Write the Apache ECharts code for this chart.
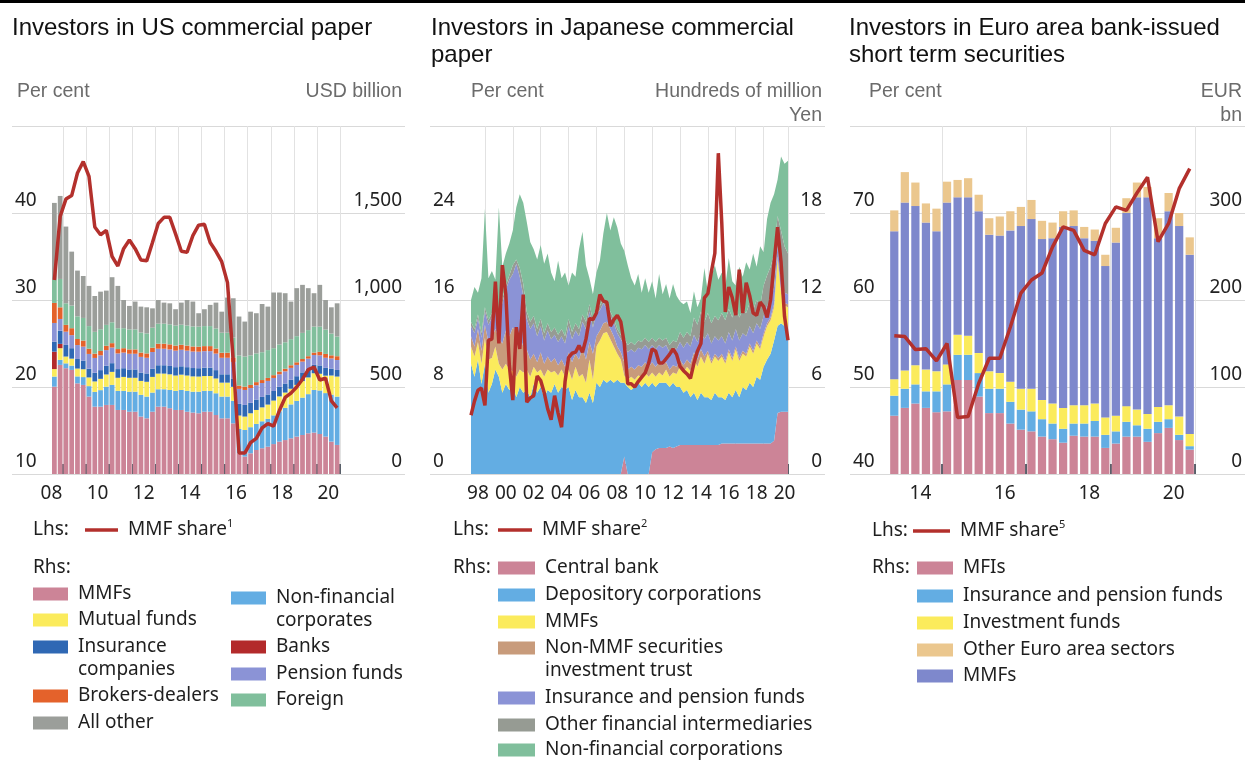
<!DOCTYPE html>
<html>
<head>
<meta charset="utf-8">
<script src="https://cdn.jsdelivr.net/npm/echarts@6/dist/echarts.min.js"></script>
<style>
  html, body { margin: 0; background: #fff; }
  #chart { width: 1245px; height: 761px; }
</style>
</head>
<body>
<div id="chart"></div>
<script>
// ---------- US commercial paper: quarterly, 2008 Q3 – 2020 Q4 (USD bn, MMF share in %) ----------
const usQuarters = [];
for (let y = 2008; y <= 2020; y++) for (let q = 1; q <= 4; q++) if (y > 2008 || q >= 3) usQuarters.push(y + ' Q' + q);

const usMMFs      = [502,627,608,598,521,512,445,387,387,397,397,368,368,358,358,330,320,358,387,387,378,368,368,358,353,349,358,358,339,320,320,291,119,100,119,138,148,157,172,186,195,205,215,224,234,238,230,215,186,167];
const usNonFin    = [58,29,28,25,40,45,60,85,95,105,115,110,110,115,115,125,125,110,100,100,105,110,115,120,120,124,120,120,125,125,125,130,140,153,150,150,155,160,165,175,185,195,205,215,225,245,250,250,270,278];
const usMutual    = [43,67,39,40,45,45,50,60,65,70,75,75,80,80,80,80,85,90,90,90,90,88,88,88,88,87,85,85,85,80,80,80,77,77,80,80,80,82,85,85,88,90,92,95,96,96,96,100,110,115];
const usBanks     = [100,25,0,0,0,0,0,0,0,0,0,0,0,0,0,0,0,0,0,0,0,0,0,0,0,0,0,0,0,0,0,0,0,0,0,0,0,0,0,0,0,0,0,0,0,0,0,0,0,0];
const usInsurance = [58,76,67,60,55,50,50,50,50,50,50,50,50,48,48,48,48,48,48,48,48,48,48,48,48,48,48,48,48,48,48,48,67,67,60,60,60,58,55,55,52,52,50,50,48,48,48,45,40,38];
const usPension   = [107,67,76,75,80,80,85,85,85,90,90,90,90,90,90,90,90,95,95,95,95,95,95,95,95,95,95,95,95,95,95,95,86,86,85,82,80,78,75,72,70,68,65,62,60,57,58,58,58,57];
const usBrokers   = [115,67,39,40,35,35,30,25,25,25,25,25,25,25,25,25,25,25,29,29,29,29,29,29,29,29,29,29,29,29,29,25,19,19,18,18,17,17,16,16,15,15,15,15,14,14,20,22,18,22];
const usForeign   = [132,163,124,130,130,130,130,125,125,120,120,120,115,115,115,115,115,115,115,115,115,115,115,115,115,115,115,115,115,115,115,115,173,173,170,165,160,160,155,155,152,150,150,150,150,149,145,140,125,113];
const usAllOther  = [443,477,441,310,263,241,231,206,216,197,259,243,162,135,160,149,150,111,136,121,121,94,127,147,143,77,97,122,149,121,202,226,224,201,251,231,277,250,320,299,282,216,276,276,241,192,240,170,151,191];
const usShare     = [32.3,39.6,41.6,42.0,44.6,45.9,44.2,38.4,37.5,38.0,35.0,33.9,35.9,36.9,35.9,34.6,34.5,36.6,38.8,39.5,39.5,37.6,35.6,35.5,37.4,38.6,38.7,36.6,35.6,34.4,32.0,23.0,12.4,12.4,13.6,14.1,15.3,15.8,15.5,17.3,18.8,19.3,20.0,20.9,22.0,22.3,20.8,21.0,18.4,17.6];

// ---------- Japanese commercial paper: quarterly, 1998 Q1 – 2020 Q4 (hundreds of million yen, MMF share in %) ----------
const jpQuarters = [];
for (let y = 1998; y <= 2020; y++) for (let q = 1; q <= 4; q++) jpQuarters.push(y + ' Q' + q);

const jpCentral = [
  0,0,0,0, 0,0,0,0, 0,0,0,0, 0,0,0,0, 0,0,0,0, 0,0,0,0, 0,0,0,0, 0,0,0,0, 0,0,0,0, 0,0,0,0, 0,0,0,0,
  1.2,0,0,0, 0,0,0,0, 1.5,1.7,1.8,1.8, 1.8,1.9,1.8,1.9,
  2.0,2.0,2.0,2.0, 2.0,2.0,2.0,2.0, 2.0,2.0,2.0,2.0,
  2.1,2.1,2.1,2.1, 2.1,2.1,2.1,2.1, 2.1,2.1,2.1,2.1,
  2.1,2.1,2.1,2.3, 4.2,4.3,4.3,4.3];
const jpDepository = [
  7.6,6.7,7.9,6.2, 7.6,5.6,6.2,7.2, 6.7,5.6,6.2,5.8, 6.2,5.3,6.0,5.6, 5.8,5.3,6.2,5.6, 6.0,5.3,5.8,5.6,
  6.2,5.6,6.0,5.8, 6.0,5.1,5.8,5.3, 5.3,4.9,5.6,4.9, 6.3,6.0,6.5,6.3, 6.5,6.3,6.5,6.3, 5.1,6.0,5.8,6.0,
  6.3,6.0,6.3,6.0, 4.8,4.3,4.5,4.5, 4.5,4.1,4.5,4.1, 4.0,3.6,3.8,3.3, 3.6,3.1,3.6,3.3, 3.3,3.1,3.6,3.3,
  3.2,3.0,3.5,3.2, 3.7,3.2,3.9,3.7, 4.2,3.9,4.6,4.4, 5.3,5.8,6.2,6.9, 6.0,6.1,5.9,5.6];
const jpMMFs = [
  1.2,1.4,1.2,1.4, 1.8,2.3,1.8,1.6, 0.9,1.6,1.4,1.4, 0.9,1.4,1.2,1.4, 1.4,1.4,1.2,1.4, 1.2,1.4,1.4,1.4,
  0.9,1.2,1.2,0.9, 1.2,1.4,1.6,1.4, 1.6,1.4,2.3,1.6, 2.5,3.2,3.2,3.5, 2.8,2.5,1.8,1.6, 0.5,0.5,0.9,0.5,
  0.5,0.7,0.7,0.7, 0.7,0.7,0.7,0.5, 0.9,0.7,0.7,0.9, 1.4,1.4,1.6,1.8, 2.3,2.3,2.5,2.3, 3.0,2.5,2.5,2.5,
  2.8,2.5,2.8,2.5, 2.8,2.5,2.3,2.3, 2.5,2.3,2.3,2.1, 2.1,2.3,2.3,2.3, 4.6,2.1,1.4,1.6];
const jpNonMMF = [
  0.7,0.7,0.9,0.9, 0.9,1.2,1.4,1.2, 1.8,1.8,2.3,2.3, 3.0,3.2,2.3,1.8, 1.4,1.2,0.9,0.7, 1.2,0.9,0.9,0.7,
  0.9,0.7,0.7,0.7, 1.2,1.2,0.9,1.2, 1.8,1.6,1.2,1.8, 0.7,0.7,0.7,0.7, 0.7,0.7,0.5,0.5, 0.9,0.7,0.7,0.7,
  0.7,0.7,0.7,0.7, 0.7,0.7,0.7,0.7, 0.5,0.5,0.5,0.5, 0.5,0.5,0.5,0.5, 0.5,0.5,0.5,0.5, 0.2,0.2,0.2,0.2,
  0.2,0.2,0.2,0.2, 0.2,0.2,0.2,0.2, 0.2,0.2,0.2,0.2, 0.2,0.2,0.2,0.2, 0.2,0.2,0.2,0.2];
const jpInsPension = [
  0.7,0.9,0.7,0.9, 0.9,1.2,1.4,1.8, 1.4,2.8,2.8,3.9, 3.7,4.6,4.1,3.5, 2.1,2.1,2.1,1.8, 1.8,1.6,1.8,1.6,
  1.6,1.6,1.6,1.6, 1.8,1.6,1.6,1.6, 1.8,2.1,2.1,1.8, 1.6,1.4,1.4,0.9, 0.9,0.9,0.9,0.9, 1.2,1.2,1.2,1.2,
  1.2,1.2,1.2,1.2, 1.2,1.2,1.2,1.2, 1.2,1.2,1.2,1.2, 1.2,1.2,1.2,1.2, 1.2,1.2,1.2,1.2, 1.2,1.2,1.2,1.2,
  1.2,1.2,1.2,1.2, 1.2,1.2,1.2,1.2, 1.2,1.2,1.2,1.2, 1.2,1.2,1.2,1.2, 0.7,0.9,0.7,0.7];
const jpOtherFin = [
  0.3,0.3,0.3,0.3, 0.3,0.3,0.3,0.3, 0.3,0.3,0.3,0.3, 0.6,0.3,0.6,0.8, 0.5,0.5,0.5,0.5, 0.5,0.5,0.5,0.5,
  0.5,0.5,0.5,0.5, 0.5,0.5,0.5,0.5, 0.5,0.5,0.5,0.5, 0.5,0.3,0.3,0.3, 0.3,0.3,0.3,0.3, 0.5,0.5,0.5,0.5,
  0.5,0.5,0.5,0.5, 0.5,0.5,0.5,0.5, 0.5,0.5,0.5,0.5, 0.7,0.7,0.7,0.7, 1.2,1.2,1.4,1.2, 1.4,1.4,1.4,1.4,
  1.6,1.6,1.6,1.6, 1.6,1.6,1.6,1.6, 1.6,1.6,1.6,1.6, 2.1,2.1,2.3,2.3, 2.1,3.2,3.2,2.8];
const jpNonFinCorp = [
  1.5,2.9,1.5,3.8, 6.8,2.9,2.9,1.3, 7.3,2.2,2.2,2.2, 2.4,3.6,5.1,5.6, 6.2,5.5,4.6,4.8, 5.1,4.8,4.8,4.1,
  3.2,5.1,3.5,4.4, 2.3,4.1,3.2,5.5, 5.7,3.9,1.8,1.8, 2.3,3.1,4.5,6.3, 5.6,7.0,7.0,6.3, 6.0,5.5,4.4,4.1,
  4.6,3.4,4.1,3.4, 3.9,3.0,4.4,3.2, 3.7,3.2,3.9,3.2, 2.1,2.3,2.1,1.6, 1.8,1.2,0.9,3.7, 1.4,3.2,3.5,2.8,
  2.8,2.3,3.5,2.5, 1.4,3.5,2.3,3.5, 2.3,3.9,2.3,4.1, 2.3,3.9,4.4,4.1, 2.5,5.1,5.7,6.4];
const jpShare = [
  5.4,6.7,7.7,7.9, 6.3,12.3,12.4,17.7, 12.0,19.2,16.5,10.0, 6.8,13.5,11.5,16.5, 6.6,7.0,7.2,9.0, 8.6,7.5,6.0,5.0,
  7.2,5.6,4.3,8.5, 10.7,11.1,11.2,11.8, 11.2,12.4,14.3,14.2, 14.8,16.5,15.9,15.8, 13.6,14.2,14.6,14.0, 12.0,8.3,8.3,8.0,
  8.5,8.9,9.3,10.2, 11.5,11.3,10.2,10.2, 10.6,11.0,11.5,11.0, 9.9,9.5,9.2,8.8, 10.2,11.3,12.0,16.2, 16.6,18.6,20.3,29.5,
  23.0,14.9,17.2,16.2, 14.6,18.8,14.8,17.6, 16.4,14.8,14.6,15.8, 15.4,14.4,16.0,19.4, 22.7,19.5,14.5,12.3];

// ---------- Euro area bank-issued short term securities: quarterly, 2013 Q4 – 2020 Q4 (EUR bn, MMF share in %) ----------
const euQuarters = [];
for (let y = 2013; y <= 2020; y++) for (let q = 1; q <= 4; q++) if (y > 2013 || q === 4) euQuarters.push(y + ' Q' + q);

const euMFIs      = [67,76,81,76,71,72,108,108,89,70,70,58,51,49,43,40,36,44,43,43,30,35,43,43,37,47,53,39,28];
const euInsPension = [23,22,22,19,24,31,29,29,27,28,28,25,23,23,20,18,16,14,15,18,15,14,17,13,15,13,10,6,4];
const euInvFunds  = [19,21,22,25,23,23,23,22,23,20,18,23,24,26,22,23,24,21,21,20,20,18,18,18,17,17,16,21,14];
const euMMFs      = [170,193,183,169,161,186,158,159,163,157,158,174,187,195,185,190,208,206,192,187,174,199,222,244,249,194,223,219,206];
const euOther     = [24,35,27,22,26,24,20,22,19,19,22,22,22,22,21,18,18,18,13,13,13,17,17,17,12,23,21,15,20];
const euShare     = [55.9,55.8,54.3,54.4,53.0,55.0,46.5,46.6,50.4,53.3,53.3,56.9,60.8,62.3,63.1,66.1,68.4,68.0,65.7,65.2,68.8,70.7,70.3,72.3,74.1,66.7,68.8,72.8,75.1];

// ---------- styling ----------
const FONT = "'Noto Sans', 'Open Sans', sans-serif";
const ARIAL = "'Liberation Sans', Arial, sans-serif";
const RED = '#b3302c';
const C = {
  pink: '#cc8497', blue: '#63ade3', yellow: '#fbeb5c', navy: '#2f68b4', orange: '#e4622b',
  gray: '#9b9e9a', darkred: '#b32a2b', lavender: '#8b93d6', green: '#80bf9c',
  brown: '#c89b7b', ofi: '#969b93', tan: '#ebc78e', mmfBlue: '#7e88cc'
};
const TOP = 126, H = 348;

const grid = (left, right) => ({left: left, right: right, top: TOP, height: H, outerBoundsMode: 'none'});
const frameX = g => ({type: 'value', gridIndex: g, show: false, min: 0, max: 1});
const thousands = v => String(v).replace(/\B(?=(\d{3})+(?!\d))/g, ',');

function frameY(g, pos, min, max, step, fmt) {
  return {
    type: 'value', gridIndex: g, position: pos, min: min, max: max, interval: step,
    axisLine: {show: false}, axisTick: {show: false},
    splitLine: {show: pos === 'left', lineStyle: {color: '#d9d9d9', width: 1}},
    axisLabel: {
      inside: true, margin: 3, verticalAlign: 'bottom', padding: [0, 0, 3, 0],
      fontFamily: FONT, fontSize: 19, color: '#222',
      formatter: v => v === max ? '' : (fmt ? fmt(v) : String(v))
    }
  };
}
const dataY = (g, pos, min, max) => ({type: 'value', gridIndex: g, position: pos, min: min, max: max, show: false});

function timeAxis(g, cats, onBand, tickAt, labelAt, shift) {
  return {
    type: 'category', gridIndex: g, data: cats, boundaryGap: onBand,
    axisLine: {show: false},
    axisTick: {show: true, inside: true, length: 10, interval: tickAt, lineStyle: {color: '#2d3442', width: 1.5}},
    splitLine: {show: true, interval: tickAt, lineStyle: {color: '#e2e2e2', width: 1}},
    axisLabel: {
      interval: labelAt, margin: 10, fontFamily: FONT, fontSize: 19, color: '#222',
      padding: [0, shift, 0, 0], formatter: v => v.slice(2, 4)
    }
  };
}

const bar = (name, data, color, x, y, gap) => ({
  name: name, type: 'bar', stack: 'x' + x, data: data, xAxisIndex: x, yAxisIndex: y,
  barCategoryGap: gap, itemStyle: {color: color}
});
const area = (name, data, color) => ({
  name: name, type: 'line', stack: 'jp', data: data, xAxisIndex: 3, yAxisIndex: 7,
  color: color, symbol: 'none', lineStyle: {width: 0}, areaStyle: {color: color, opacity: 1}
});
const share = (name, data, x, y) => ({
  name: name, type: 'line', data: data, xAxisIndex: x, yAxisIndex: y, z: 5,
  color: RED, symbol: 'none', lineStyle: {color: RED, width: 3.5}
});

// one legend component per entry, so each can sit exactly where the original has it
function leg(name, left, cy, o) {
  o = o || {};
  const lines = o.lines || 1, lh = 23, padTop = lh * (lines - 1);
  return {
    data: [name], left: left, top: cy - (lh * lines + padTop) / 2, padding: 0,
    orient: 'vertical', selectedMode: false, icon: 'rect',
    itemWidth: o.w || 35, itemHeight: o.h || 13,
    formatter: o.fmt || (n => n.split('|')[1]),
    textStyle: {
      fontFamily: FONT, fontSize: 19, color: '#1e1e1e', lineHeight: lh, padding: [padTop, 0, 0, 5],
      rich: {
        t: {fontFamily: FONT, fontSize: 19, color: '#1e1e1e', lineHeight: lh},
        s: {fontFamily: FONT, fontSize: 11, color: '#1e1e1e', lineHeight: 11, verticalAlign: 'top'}
      }
    }
  };
}
const supFmt = sup => () => '{t|MMF share}{s|' + sup + '}';

const txt = (text, x, y, o) => ({
  type: 'text', x: x, y: y,
  style: Object.assign({text: text, fontFamily: FONT, fontSize: 19, fill: '#1e1e1e', verticalAlign: 'middle'}, o || {})
});
const unit = (text, x, align) => txt(text, x, 79.5, {fontFamily: ARIAL, fontSize: 19.5, fill: '#6b6b6b', verticalAlign: 'top', lineHeight: 24, align: align});

const option = {
  animation: false,
  title: [
    {text: 'Investors in US commercial paper', left: 12, top: 14.5},
    {text: 'Investors in Japanese commercial\npaper', left: 431, top: 14.5},
    {text: 'Investors in Euro area bank-issued\nshort term securities', left: 849, top: 14.5}
  ].map(t => Object.assign(t, {padding: 0, textStyle: {fontFamily: ARIAL, fontSize: 24, fontWeight: 'normal', color: '#111', lineHeight: 27}})),
  grid: [
    grid(12, 840), grid(51.5, 905),
    grid(430, 420), grid(471, 457),
    grid(850, 0), grid(889, 50)
  ],
  xAxis: [
    frameX(0),
    timeAxis(1, usQuarters, true, i => i % 4 === 2, i => i % 8 === 0, 6),
    frameX(2),
    timeAxis(3, jpQuarters, false, i => (i - 4) % 8 === 0 || i === jpQuarters.length - 1, i => i % 8 === 2, 0),
    frameX(4),
    timeAxis(5, euQuarters, true, i => i % 8 === 5, i => i % 8 === 3, 11)
  ],
  yAxis: [
    frameY(0, 'left', 10, 50, 10), frameY(0, 'right', 0, 2000, 500, thousands),
    dataY(1, 'left', 10, 50), dataY(1, 'right', 0, 2000),
    frameY(2, 'left', 0, 32, 8), frameY(2, 'right', 0, 24, 6),
    dataY(3, 'left', 0, 32), dataY(3, 'right', 0, 24),
    frameY(4, 'left', 40, 80, 10), frameY(4, 'right', 0, 400, 100),
    dataY(5, 'left', 40, 80), dataY(5, 'right', 0, 400)
  ],
  series: [
    bar('us|MMFs', usMMFs, C.pink, 1, 3, '18%'),
    bar('us|Non-financial corporates', usNonFin, C.blue, 1, 3, '18%'),
    bar('us|Mutual funds', usMutual, C.yellow, 1, 3, '18%'),
    bar('us|Banks', usBanks, C.darkred, 1, 3, '18%'),
    bar('us|Insurance companies', usInsurance, C.navy, 1, 3, '18%'),
    bar('us|Pension funds', usPension, C.lavender, 1, 3, '18%'),
    bar('us|Brokers-dealers', usBrokers, C.orange, 1, 3, '18%'),
    bar('us|Foreign', usForeign, C.green, 1, 3, '18%'),
    bar('us|All other', usAllOther, C.gray, 1, 3, '18%'),
    share('us|MMF share', usShare, 1, 2),

    area('jp|Central bank', jpCentral, C.pink),
    area('jp|Depository corporations', jpDepository, C.blue),
    area('jp|MMFs', jpMMFs, C.yellow),
    area('jp|Non-MMF securities investment trust', jpNonMMF, C.brown),
    area('jp|Insurance and pension funds', jpInsPension, C.lavender),
    area('jp|Other financial intermediaries', jpOtherFin, C.ofi),
    area('jp|Non-financial corporations', jpNonFinCorp, C.green),
    share('jp|MMF share', jpShare, 3, 6),

    bar('eu|MFIs', euMFIs, C.pink, 5, 11, '22%'),
    bar('eu|Insurance and pension funds', euInsPension, C.blue, 5, 11, '22%'),
    bar('eu|Investment funds', euInvFunds, C.yellow, 5, 11, '22%'),
    bar('eu|MMFs', euMMFs, C.mmfBlue, 5, 11, '22%'),
    bar('eu|Other Euro area sectors', euOther, C.tan, 5, 11, '22%'),
    share('eu|MMF share', euShare, 5, 10)
  ],
  legend: [
    leg('us|MMF share', 85, 530, {w: 33, h: 3.5, fmt: supFmt('1')}),
    leg('us|MMFs', 33, 594),
    leg('us|Mutual funds', 33, 620),
    leg('us|Insurance companies', 33, 647, {lines: 2, fmt: () => 'Insurance\ncompanies'}),
    leg('us|Brokers-dealers', 33, 696),
    leg('us|All other', 33, 723),
    leg('us|Non-financial corporates', 231, 598, {lines: 2, fmt: () => 'Non-financial\ncorporates'}),
    leg('us|Banks', 231, 647),
    leg('us|Pension funds', 231, 674),
    leg('us|Foreign', 231, 700),

    leg('jp|MMF share', 498, 530, {w: 34, h: 3.5, fmt: supFmt('2')}),
    leg('jp|Central bank', 498, 568, {w: 37}),
    leg('jp|Depository corporations', 498, 595, {w: 37}),
    leg('jp|MMFs', 498, 622, {w: 37}),
    leg('jp|Non-MMF securities investment trust', 498, 648, {w: 37, lines: 2, fmt: () => 'Non-MMF securities\ninvestment trust'}),
    leg('jp|Insurance and pension funds', 498, 698, {w: 37}),
    leg('jp|Other financial intermediaries', 498, 725, {w: 37}),
    leg('jp|Non-financial corporations', 498, 750, {w: 37}),

    leg('eu|MMF share', 913, 531, {w: 37, h: 3.5, fmt: supFmt('5')}),
    leg('eu|MFIs', 917, 568, {w: 36}),
    leg('eu|Insurance and pension funds', 917, 596, {w: 36}),
    leg('eu|Investment funds', 917, 623, {w: 36}),
    leg('eu|Other Euro area sectors', 917, 650, {w: 36}),
    leg('eu|MMFs', 917, 676, {w: 36})
  ],
  graphic: [
    {type: 'rect', shape: {x: 0, y: 0, width: 1245, height: 3}, style: {fill: '#000'}},
    unit('Per cent', 17, 'left'), unit('USD billion', 402, 'right'),
    unit('Per cent', 471, 'left'), unit('Hundreds of million\nYen', 822, 'right'),
    unit('Per cent', 869, 'left'), unit('EUR\nbn', 1242, 'right'),
    txt('Lhs:', 33, 530), txt('Rhs:', 33, 568),
    txt('Lhs:', 453, 530), txt('Rhs:', 453, 568),
    txt('Lhs:', 872, 531), txt('Rhs:', 872, 568)
  ]
};

echarts.init(document.getElementById('chart')).setOption(option);
</script>
</body>
</html>
